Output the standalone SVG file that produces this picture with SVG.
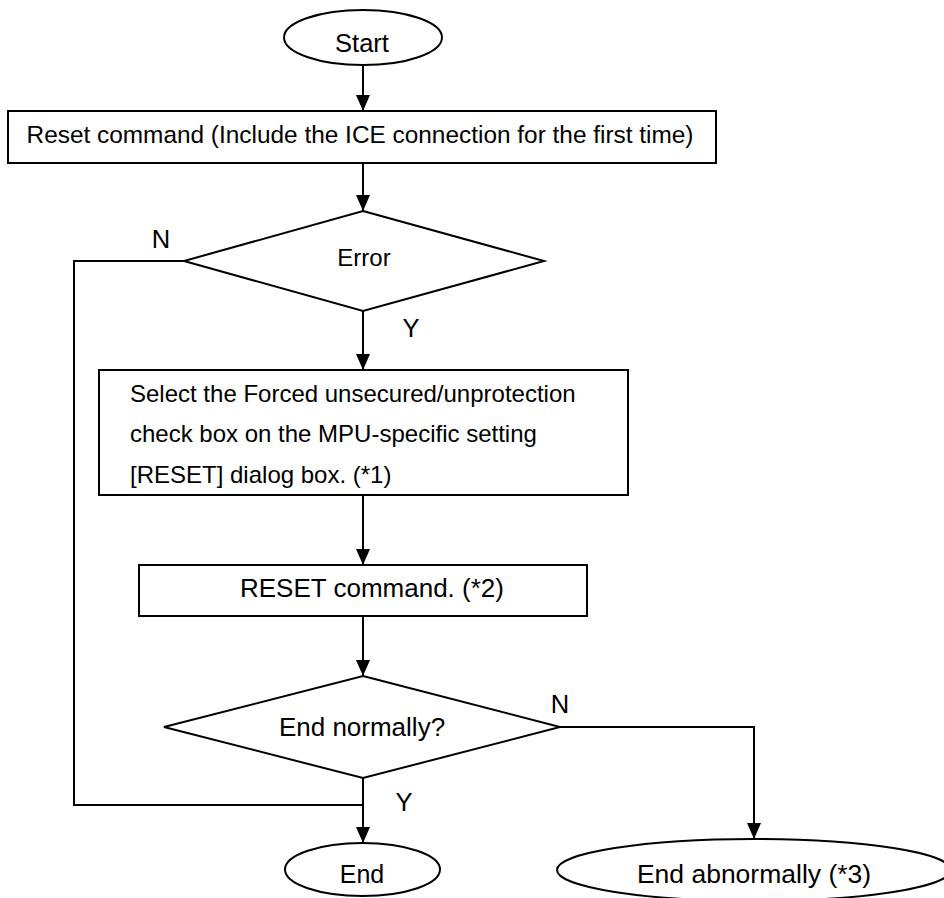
<svg xmlns="http://www.w3.org/2000/svg" width="944" height="898" viewBox="0 0 944 898">
<defs>
<marker id="ah" viewBox="0 0 16 14" refX="16" refY="7" markerWidth="16" markerHeight="14" markerUnits="userSpaceOnUse" orient="auto"><path d="M0,0 L16,7 L0,14 z" fill="#000"/></marker>
<style>
.s{fill:#fff;stroke:#000;stroke-width:2}
.c{fill:none;stroke:#000;stroke-width:2}
.a{marker-end:url(#ah)}
text{font-family:"Liberation Sans",Arial,sans-serif;font-size:24px;fill:#000}
.m{text-anchor:middle}
.l{font-size:25.5px}
</style>
</defs>
<rect width="944" height="898" fill="#fff"/>
<g id="connectors">
<path class="c a" d="M363,65 V111"/>
<path class="c a" d="M363,163 V211"/>
<path class="c" d="M184,261 H74 V805 H363"/>
<path class="c a" d="M363,311 V370"/>
<path class="c a" d="M363,495 V565"/>
<path class="c a" d="M363,616 V676"/>
<path class="c a" d="M363,778 V843"/>
<path class="c a" d="M560,727 H754 V839"/>
</g>
<g id="start">
<ellipse class="s" cx="363" cy="37.5" rx="79" ry="27.5"/>
<text x="362" y="51.5" class="m" style="font-size:25.5px">Start</text>
</g>
<g id="reset">
<rect class="s" x="8" y="111" width="708" height="52"/>
<text x="360" y="143" class="m" style="font-size:24.4px">Reset command (Include the ICE connection for the first time)</text>
</g>
<g id="error">
<polygon class="s" points="363,211 544,261 363,311 184,261"/>
<text x="364" y="266" class="m">Error</text>
</g>
<g id="select">
<rect class="s" x="99" y="370" width="529" height="125"/>
<text x="130" y="402">Select the Forced unsecured/unprotection</text>
<text x="130" y="442">check box on the MPU-specific setting</text>
<text x="130" y="483">[RESET] dialog box. (*1)</text>
</g>
<g id="resetcmd">
<rect class="s" x="139" y="565" width="448" height="51"/>
<text x="240" y="597" style="font-size:26px">RESET command. (*2)</text>
</g>
<g id="endnormally">
<polygon class="s" points="363,676 560,727 363,778 164,727"/>
<text x="362" y="736" class="m" style="font-size:26px">End normally?</text>
</g>
<g id="end">
<ellipse class="s" cx="362.5" cy="869.5" rx="77.5" ry="26.5"/>
<text x="362" y="883" class="m" style="font-size:25px">End</text>
</g>
<g id="endabn">
<ellipse class="s" cx="754" cy="870" rx="197" ry="31"/>
<text x="754" y="883" class="m" style="font-size:26.5px">End abnormally (*3)</text>
</g>
<g id="labels">
<text x="161" y="248" class="m l">N</text>
<text x="411" y="337" class="m l">Y</text>
<text x="560" y="713" class="m l">N</text>
<text x="404" y="811" class="m l">Y</text>
</g>
</svg>
